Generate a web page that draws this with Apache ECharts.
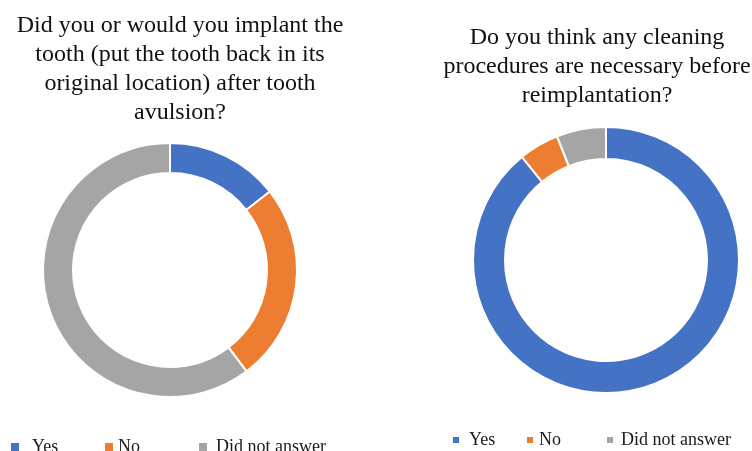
<!DOCTYPE html>
<html>
<head>
<meta charset="utf-8">
<script src="https://cdn.jsdelivr.net/npm/echarts@6/dist/echarts.min.js"></script>
<style>
html,body{margin:0;padding:0;background:#fff;}
#main{width:752px;height:451px;}
</style>
</head>
<body>
<div id="main"></div>
<script>
const categories = ['Yes', 'No', 'Did not answer'];
const chart1Values = [14.4, 25.3, 60.3];
const chart2Values = [89.1, 4.9, 6.0];
const title1 = 'Did you or would you implant the\ntooth (put the tooth back in its\noriginal location) after tooth\navulsion?';
const title2 = 'Do you think any cleaning\nprocedures are necessary before\nreimplantation?';
const colors = ['#4472C4', '#ED7D31', '#A5A5A5'];

const chart = echarts.init(document.getElementById('main'), null, {renderer: 'canvas'});

const serif = '"Liberation Serif", "Times New Roman", serif';

function mkLegend(name, left, top, size, pad) {
  return {
    data: [name],
    left: left,
    top: top,
    padding: 0,
    orient: 'horizontal',
    icon: 'rect',
    itemWidth: size,
    itemHeight: size,
    selectedMode: false,
    itemStyle: {borderWidth: 0},
    textStyle: {fontFamily: serif, fontSize: 18, color: '#1a1a1a', padding: [0, 0, 0, pad]}
  };
}

const legendsLeft = [
  mkLegend(categories[0], 11, 438, 8, 8),
  mkLegend(categories[1], 105, 438, 8, 0),
  mkLegend(categories[2], 199, 438, 8, 4)
];
const legendsRight = [
  mkLegend(categories[0], 453, 431, 6, 5),
  mkLegend(categories[1], 527, 431, 6, 1),
  mkLegend(categories[2], 607, 431, 6, 3)
];

function mkData(values) {
  return categories.map((c, i) => ({name: c, value: values[i], itemStyle: {color: colors[i]}}));
}

const option = {
  animation: false,
  backgroundColor: '#ffffff',
  title: [
    {text: title1, left: 175, top: 6, textAlign: 'center',
     textStyle: {fontFamily: serif, fontSize: 24, fontWeight: 'normal', color: '#111', lineHeight: 29}},
    {text: title2, left: 592, top: 18, textAlign: 'center',
     textStyle: {fontFamily: serif, fontSize: 24, fontWeight: 'normal', color: '#111', lineHeight: 29}}
  ],
  legend: legendsLeft.concat(legendsRight),
  series: [
    {
      type: 'pie', name: 'chart1',
      center: [170, 270], radius: [97, 127],
      startAngle: 90, clockwise: true,
      label: {show: false}, labelLine: {show: false},
      emphasis: {disabled: true},
      itemStyle: {borderColor: '#fff', borderWidth: 2},
      data: mkData(chart1Values)
    },
    {
      type: 'pie', name: 'chart2',
      center: [606, 260], radius: [101, 133],
      startAngle: 90, clockwise: true,
      label: {show: false}, labelLine: {show: false},
      emphasis: {disabled: true},
      itemStyle: {borderColor: '#fff', borderWidth: 2},
      data: mkData(chart2Values)
    }
  ]
};
chart.setOption(option);
</script>
</body>
</html>
